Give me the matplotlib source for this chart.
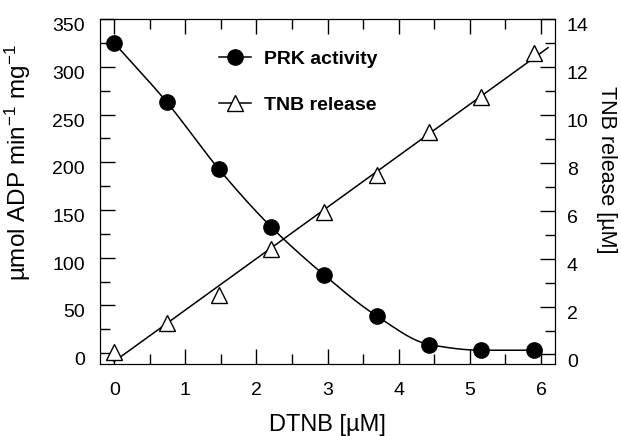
import numpy as np
import matplotlib
matplotlib.use('agg')
import matplotlib.pyplot as plt
import matplotlib.transforms as mtransforms
from matplotlib.ticker import MultipleLocator

plt.rcParams['font.family'] = ['Liberation Sans', 'DejaVu Sans']
plt.rcParams['mathtext.fontset'] = 'custom'
plt.rcParams['mathtext.rm'] = 'Liberation Sans'
plt.rcParams['mathtext.default'] = 'regular'

# data
dtnb = [0.0, 0.74, 1.47, 2.21, 2.95, 3.69, 4.43, 5.16, 5.9]
prk_activity = [325, 263, 193, 132, 82, 39, 9, 3, 3]
tnb_release = [0.1, 1.3, 2.5, 4.4, 5.95, 7.5, 9.3, 10.75, 12.6]


def pchip(x, y, xn):
    # monotone cubic interpolation for the smooth curve
    x = np.asarray(x, float)
    y = np.asarray(y, float)
    h = np.diff(x)
    d = np.diff(y) / h
    m = np.zeros_like(y)
    for k in range(1, len(x) - 1):
        if d[k - 1] * d[k] > 0:
            w1 = 2 * h[k] + h[k - 1]
            w2 = h[k] + 2 * h[k - 1]
            m[k] = (w1 + w2) / (w1 / d[k - 1] + w2 / d[k])
    m[0] = d[0]
    m[-1] = d[-1] if d[-1] * d[-2] > 0 else 0
    i = np.clip(np.searchsorted(x, xn) - 1, 0, len(x) - 2)
    t = (xn - x[i]) / h[i]
    h00 = 2 * t**3 - 3 * t**2 + 1
    h10 = t**3 - 2 * t**2 + t
    h01 = -2 * t**3 + 3 * t**2
    h11 = t**3 - t**2
    return h00 * y[i] + h10 * h[i] * m[i] + h01 * y[i + 1] + h11 * h[i] * m[i + 1]


fig = plt.figure(figsize=(6.21, 4.36), dpi=100)
ax = fig.add_axes([0.161, 0.165, 0.733, 0.791])
ax2 = ax.twinx()

xs = np.linspace(dtnb[0], dtnb[-1], 300)
ax.plot(xs, pchip(dtnb, prk_activity, xs), color='black', lw=1.1)
ax.plot(dtnb, prk_activity, 'o', color='black', ms=11, zorder=5)

coef = np.polyfit(dtnb, tnb_release, 1)
xl = np.array([0, 6.1])
ax2.plot(xl, np.polyval(coef, xl), color='black', lw=1.1)
ax2.plot(dtnb, tnb_release, '^', mfc='white', mec='black', mew=1.0, ms=12, zorder=5)

ax.set_xlim(-0.2, 6.2)
ax.set_ylim(-11.5, 350)
ax2.set_ylim(-0.4, 14)

ax.xaxis.set_major_locator(MultipleLocator(1))
ax.xaxis.set_minor_locator(MultipleLocator(0.5))
ax.yaxis.set_major_locator(MultipleLocator(50))
ax.yaxis.set_minor_locator(MultipleLocator(25))
ax2.yaxis.set_major_locator(MultipleLocator(2))
ax2.yaxis.set_minor_locator(MultipleLocator(1))

ax.tick_params(axis='x', which='both', direction='in', top=True, bottom=True, labelsize=14, pad=13)
ax.tick_params(axis='y', which='both', direction='in', left=True, right=False, labelsize=14, pad=11)
ax2.tick_params(axis='y', which='both', direction='in', labelsize=14, pad=8.5)
for a in (ax, ax2):
    a.tick_params(which='major', length=10.5, width=1)
    a.tick_params(which='minor', length=7, width=1)

# y tick labels sit a little below their ticks in the original
shift = mtransforms.ScaledTranslation(0, -4 / 72, fig.dpi_scale_trans)
for a in (ax, ax2):
    for t in a.yaxis.get_major_ticks():
        t.label1.set_transform(t.label1.get_transform() + shift)
        t.label2.set_transform(t.label2.get_transform() + shift)

ax.set_xlabel('DTNB [µM]', fontsize=17)
ax.xaxis.set_label_coords(0.5, -0.145)
ax.set_ylabel('µmol ADP min$^{-1}$ mg$^{-1}$', fontsize=17.5)
ax.yaxis.set_label_coords(-0.147, 0.583)
ax2.set_ylabel('TNB release [µM]', fontsize=15.5, rotation=270, va='bottom')
ax2.yaxis.set_label_coords(1.09, 0.562)

h1 = ax.plot([], [], 'o-', color='black', ms=11, lw=1.1)[0]
h2 = ax.plot([], [], '^-', color='black', mfc='white', mew=1.0, ms=12, lw=1.1)[0]
leg = ax.legend([h1, h2], ['PRK activity', 'TNB release'], loc='upper left',
                bbox_to_anchor=(0.223, 0.96), frameon=False, handlelength=1.65,
                handletextpad=0.67, labelspacing=1.45,
                prop={'weight': 'bold', 'size': 14})

fig.savefig('out.png', dpi=100)
